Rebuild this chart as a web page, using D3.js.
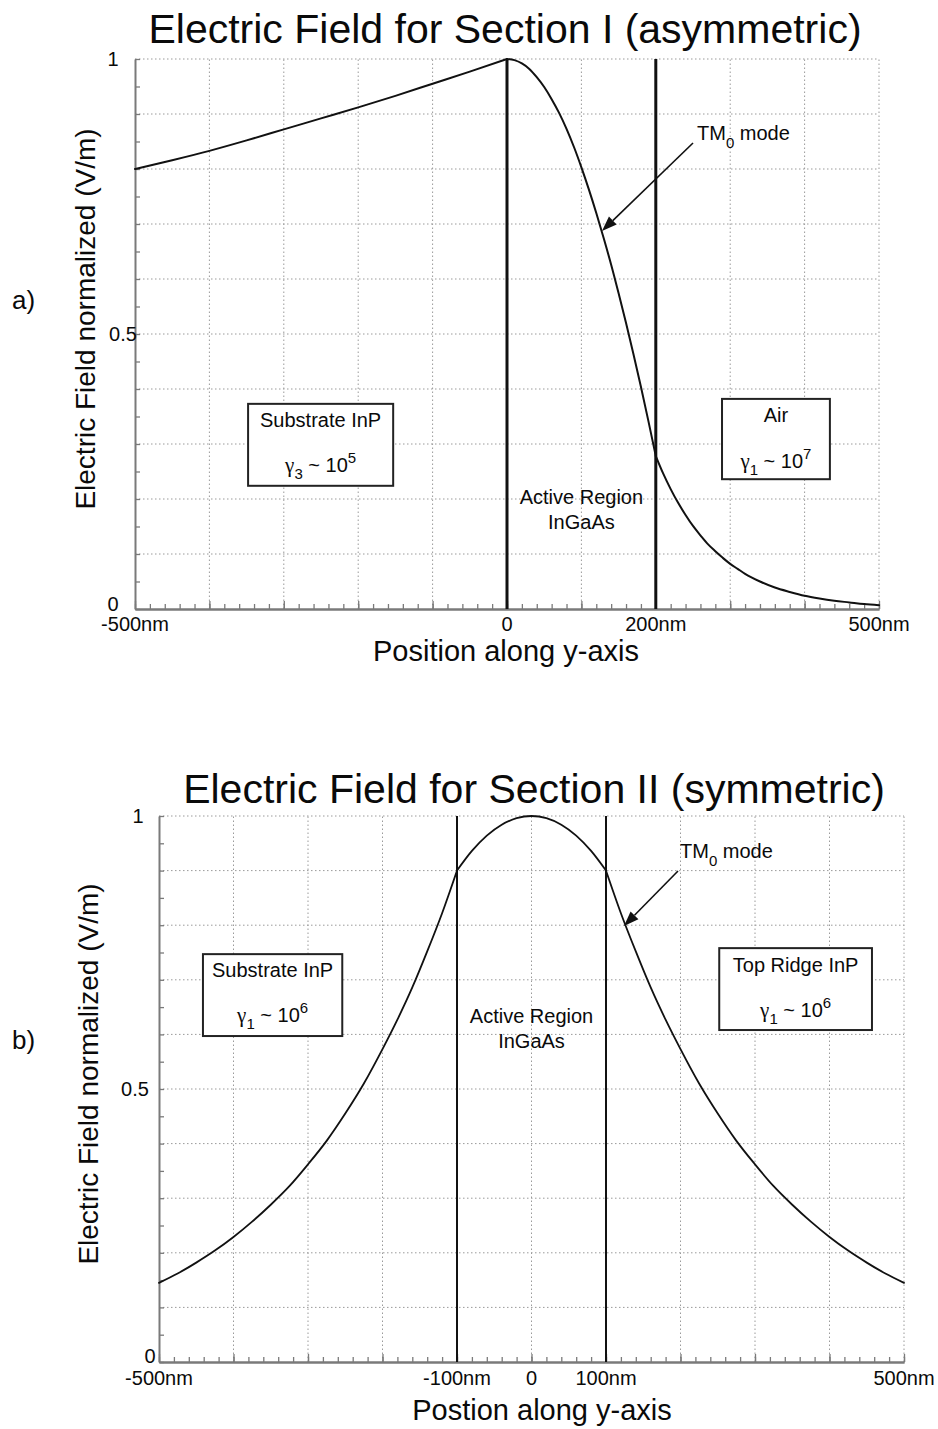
<!DOCTYPE html>
<html>
<head>
<meta charset="utf-8">
<script src="https://cdn.jsdelivr.net/npm/d3@7"></script>
<style>
  html, body { margin: 0; padding: 0; background: #fff; }
  svg { display: block; }
  text { font-family: "Liberation Sans", Arial, Helvetica, sans-serif; fill: #0a0a0a; }
</style>
</head>
<body>
<svg id="fig" width="938" height="1429"></svg>
<script>
// ---- Section I (asymmetric guide): normalized field vs position (nm)
const positionI = [-500, -450, -400, -350, -300, -250, -200, -150, -100, -50, 0,
  10, 20, 30, 40, 50, 60, 70, 80, 90, 100, 110, 120, 130, 140, 150, 160, 170, 180, 190, 200,
  210, 220, 230, 240, 250, 260, 270, 280, 290, 300, 310, 320, 340, 360, 380, 400, 420, 440, 460, 480, 500];
const fieldI = [0.800, 0.816, 0.833, 0.852, 0.872, 0.892, 0.912, 0.933, 0.955, 0.977, 1.000,
  0.998, 0.992, 0.982, 0.967, 0.949, 0.927, 0.902, 0.873, 0.840, 0.803, 0.763, 0.720, 0.674, 0.626, 0.574, 0.520, 0.463, 0.404, 0.342, 0.278,
  0.246, 0.218, 0.193, 0.171, 0.151, 0.134, 0.118, 0.105, 0.093, 0.082, 0.073, 0.064, 0.050, 0.039, 0.031, 0.024, 0.019, 0.015, 0.012, 0.009, 0.007];
const interfacesI = [0, 200];
const xTickValuesI = [-500, 0, 200, 500];
const xTickLabelsI = ["-500nm", "0", "200nm", "500nm"];

// ---- Section II (symmetric guide)
const positionII = [-500, -475, -450, -425, -400, -375, -350, -325, -300, -275, -250, -225, -200, -180, -160, -140, -120, -100,
  -80, -60, -40, -20, 0, 20, 40, 60, 80,
  100, 120, 140, 160, 180, 200, 225, 250, 275, 300, 325, 350, 375, 400, 425, 450, 475, 500];
const fieldII = [0.145, 0.162, 0.182, 0.204, 0.229, 0.257, 0.288, 0.322, 0.362, 0.405, 0.455, 0.510, 0.573, 0.627, 0.686, 0.752, 0.822, 0.900,
  0.936, 0.964, 0.984, 0.996, 1.000, 0.996, 0.984, 0.964, 0.936,
  0.900, 0.822, 0.752, 0.686, 0.627, 0.573, 0.510, 0.455, 0.405, 0.362, 0.322, 0.288, 0.257, 0.229, 0.204, 0.182, 0.162, 0.145];
const interfacesII = [-100, 100];
const xTickValuesII = [-500, -100, 0, 100, 500];
const xTickLabelsII = ["-500nm", "-100nm", "0", "100nm", "500nm"];

const yTickValues = [0, 0.5, 1];
const yTickLabels = ["0", "0.5", "1"];

const svg = d3.select("#fig");

function drawPanel(p) {
  const x = d3.scaleLinear().domain([-500, 500]).range([p.left, p.right]);
  const y = d3.scaleLinear().domain([0, 1]).range([p.bottom, p.top]);
  const g = svg.append("g");

  // dotted grid: every 100 nm and every 0.1
  const gridStyle = sel => sel.attr("stroke", "#9a9a9a").attr("stroke-width", 1)
    .attr("stroke-dasharray", "1.5,2.5").attr("fill", "none");
  g.selectAll(".gx").data(d3.range(-400, 501, 100)).join("line")
    .attr("x1", d => x(d)).attr("x2", d => x(d))
    .attr("y1", y(0)).attr("y2", y(1)).call(gridStyle);
  g.selectAll(".gy").data(d3.range(1, 11).map(i => i / 10)).join("line")
    .attr("x1", x(-500)).attr("x2", x(500))
    .attr("y1", d => y(d)).attr("y2", d => y(d)).call(gridStyle);

  // axes with inward ticks
  const axisCol = "#7a7a7a";
  const styleAxis = a => {
    a.selectAll("path.domain").attr("stroke", axisCol).attr("stroke-width", 2);
    a.selectAll(".tick line").attr("stroke", axisCol).attr("stroke-width", 1.3);
    a.selectAll(".tick text").remove();
  };
  g.append("g").attr("transform", `translate(0,${p.bottom})`)
    .call(d3.axisBottom(x).tickValues(d3.range(-500, 501, 20)).tickSizeInner(-5).tickSizeOuter(0).tickFormat(""))
    .call(styleAxis);
  g.append("g").attr("transform", `translate(0,${p.bottom})`)
    .call(d3.axisBottom(x).tickValues(d3.range(-500, 501, 100)).tickSizeInner(-8).tickSizeOuter(0).tickFormat(""))
    .call(styleAxis);
  g.append("g").attr("transform", `translate(${p.left},0)`)
    .call(d3.axisLeft(y).tickValues(d3.range(0, 21).map(i => i / 20)).tickSizeInner(-5).tickSizeOuter(0).tickFormat(""))
    .call(styleAxis);

  // tick labels
  g.selectAll(".xl").data(p.xTicks).join("text")
    .attr("x", d => x(d)).attr("y", p.bottom + p.xLabelDy)
    .attr("text-anchor", "middle").attr("font-size", 20)
    .text((d, i) => p.xLabels[i]);
  g.selectAll(".yl").data(yTickValues).join("text")
    .attr("x", (d, i) => p.left + p.yLabelDx[i]).attr("y", (d, i) => y(d) + p.yLabelDy[i])
    .attr("text-anchor", "middle").attr("font-size", 20)
    .text((d, i) => yTickLabels[i]);

  // layer interfaces
  g.selectAll(".iface").data(p.interfaces).join("line")
    .attr("x1", d => x(d)).attr("x2", d => x(d))
    .attr("y1", y(0)).attr("y2", y(1))
    .attr("stroke", "#111").attr("stroke-width", p.ifaceWidth);

  // field profile, one smooth piece per layer (slope may jump at an interface)
  const pts = p.pos.map((d, i) => [d, p.field[i]]);
  const edges = [-Infinity, ...p.interfaces, Infinity];
  const pieces = d3.range(edges.length - 1).map(k =>
    pts.filter(d => d[0] >= edges[k] && d[0] <= edges[k + 1]));
  const line = d3.line().x(d => x(d[0])).y(d => y(d[1])).curve(d3.curveMonotoneX);
  g.selectAll(".prof").data(pieces).join("path")
    .attr("d", line)
    .attr("fill", "none").attr("stroke", "#111").attr("stroke-width", p.curveWidth)
    .attr("stroke-linejoin", "round").attr("stroke-linecap", "round");

  // titles
  g.append("text").attr("x", p.titleX).attr("y", p.titleY).attr("text-anchor", "middle")
    .attr("font-size", 41).text(p.title);
  g.append("text").attr("x", p.xTitleX).attr("y", p.xTitleY).attr("text-anchor", "middle")
    .attr("font-size", 29).text(p.xTitle);
  g.append("text").attr("transform", `translate(${p.yTitleX},${p.yTitleY}) rotate(-90)`)
    .attr("text-anchor", "middle").attr("font-size", 28)
    .text("Electric Field normalized (V/m)");
  g.append("text").attr("x", 12).attr("y", p.panelY)
    .attr("font-family", "'Liberation Serif', 'Times New Roman', serif")
    .attr("font-size", 26).text(p.panel);

  // region boxes
  p.boxes.forEach(b => {
    const bx0 = x(b.x0), bx1 = x(b.x1), by0 = y(b.y1), by1 = y(b.y0);
    g.append("rect").attr("x", bx0).attr("y", by0).attr("width", bx1 - bx0).attr("height", by1 - by0)
      .attr("fill", "#fff").attr("stroke", "#222").attr("stroke-width", 2);
    const cx = (bx0 + bx1) / 2;
    g.append("text").attr("x", cx).attr("y", by0 + b.line1).attr("text-anchor", "middle")
      .attr("font-size", 20).text(b.name);
    const t = g.append("text").attr("x", cx).attr("y", by0 + b.line2).attr("text-anchor", "middle")
      .attr("font-size", 20);
    t.append("tspan").attr("font-family", "'Liberation Serif', 'Times New Roman', serif")
      .attr("font-size", 21).text("\u03b3");
    t.append("tspan").attr("dy", 7).attr("font-size", 15).text(b.sub);
    t.append("tspan").attr("dy", -7).text(" ~ 10");
    t.append("tspan").attr("dy", -9).attr("font-size", 15).text(b.exp);
  });

  // active region label
  const ax = x((p.interfaces[0] + p.interfaces[1]) / 2);
  g.append("text").attr("x", ax).attr("y", p.activeY).attr("text-anchor", "middle")
    .attr("font-size", 20).text("Active Region");
  g.append("text").attr("x", ax).attr("y", p.activeY + 25).attr("text-anchor", "middle")
    .attr("font-size", 20).text("InGaAs");

  // mode annotation with arrow
  const m = g.append("text").attr("x", p.modeX).attr("y", p.modeY).attr("font-size", 20);
  m.append("tspan").text("TM");
  m.append("tspan").attr("dy", 8).attr("font-size", 15).text("0");
  m.append("tspan").attr("dy", -8).text(" mode");
  const [x1, y1, x2, y2] = p.arrow;
  const ang = Math.atan2(y2 - y1, x2 - x1);
  const L = 15, W = 5.5;
  const bxp = x2 - L * Math.cos(ang), byp = y2 - L * Math.sin(ang);
  g.append("line").attr("x1", x1).attr("y1", y1).attr("x2", bxp).attr("y2", byp)
    .attr("stroke", "#111").attr("stroke-width", 1.6);
  g.append("path")
    .attr("d", `M${x2},${y2}L${bxp - W * Math.sin(ang)},${byp + W * Math.cos(ang)}L${bxp + W * Math.sin(ang)},${byp - W * Math.cos(ang)}Z`)
    .attr("fill", "#111");
}

drawPanel({
  left: 135, right: 879, top: 59, bottom: 609,
  pos: positionI, field: fieldI, interfaces: interfacesI,
  xTicks: xTickValuesI, xLabels: xTickLabelsI, xLabelDy: 22,
  yLabelDx: [-22, -12, -22], yLabelDy: [2, 7, 7],
  ifaceWidth: 3, curveWidth: 2,
  title: "Electric Field for Section I (asymmetric)", titleX: 505, titleY: 43,
  xTitle: "Position along y-axis", xTitleX: 506, xTitleY: 661,
  yTitleX: 95, yTitleY: 319,
  panel: "a)", panelY: 309,
  boxes: [
    { name: "Substrate InP", sub: "3", exp: "5", x0: -348, x1: -153, y0: 0.224, y1: 0.373, line1: 23, line2: 68 },
    { name: "Air", sub: "1", exp: "7", x0: 289, x1: 434, y0: 0.236, y1: 0.382, line1: 23, line2: 69 }
  ],
  activeY: 504,
  modeX: 697, modeY: 140,
  arrow: [693, 143, 602, 231]
});

drawPanel({
  left: 159, right: 904, top: 816, bottom: 1362,
  pos: positionII, field: fieldII, interfaces: interfacesII,
  xTicks: xTickValuesII, xLabels: xTickLabelsII, xLabelDy: 23,
  yLabelDx: [-9, -24, -21], yLabelDy: [1, 7, 7],
  ifaceWidth: 2, curveWidth: 1.8,
  title: "Electric Field for Section II (symmetric)", titleX: 534, titleY: 803,
  xTitle: "Postion along y-axis", xTitleX: 542, xTitleY: 1420,
  yTitleX: 98, yTitleY: 1074,
  panel: "b)", panelY: 1049,
  boxes: [
    { name: "Substrate InP", sub: "1", exp: "6", x0: -441, x1: -254, y0: 0.597, y1: 0.747, line1: 23, line2: 68 },
    { name: "Top Ridge InP", sub: "1", exp: "6", x0: 252, x1: 457, y0: 0.608, y1: 0.758, line1: 24, line2: 69 }
  ],
  activeY: 1023,
  modeX: 680, modeY: 858,
  arrow: [678, 871, 624, 926]
});
</script>
</body>
</html>
